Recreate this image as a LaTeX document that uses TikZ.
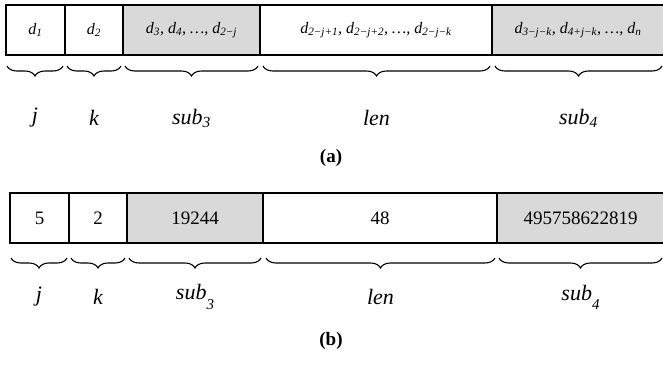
\documentclass[tikz,border=0pt]{standalone}
\usepackage{fontspec}
\setmainfont{Liberation Serif}
\usetikzlibrary{decorations.pathreplacing}
\definecolor{cellgray}{RGB}{217,217,217}
\newcommand\dsb[1]{\textsubscript{#1}}
\newcommand\lowsb[1]{\raisebox{-0.42em}{\fontsize{15}{17}\selectfont #1}}
\begin{document}
\begin{tikzpicture}[x=1pt,y=-1pt,
  cell/.style={draw, line width=1.2pt, inner sep=0pt, minimum height=50pt, font=\fontsize{16}{18}\selectfont},
  numcell/.style={cell, font=\fontsize{19}{21}\selectfont},
  shaded/.style={fill=cellgray},
  brc/.style={decorate, decoration={brace, mirror, amplitude=10pt}, line width=1.1pt},
  lbltxt/.style={font=\fontsize{22}{24}\selectfont\itshape, inner sep=0pt},
  captxt/.style={font=\fontsize{19}{21}\selectfont\bfseries, inner sep=0pt}]
\useasboundingbox (0,0) rectangle (663,367);

% ---------- (a) ----------
\node[cell, minimum width=59pt] (a1) at (35.5,30) {\itshape d\dsb{1}};
\node[cell, minimum width=58pt] (a2) at (94,30) {\itshape d\dsb{2}};
\node[cell, shaded, minimum width=137pt] (a3) at (191.5,30) {\itshape d\dsb{3}, d\dsb{4}, …, d\dsb{2−j}};
\node[cell, minimum width=232pt] (a4) at (376,30) {\itshape d\dsb{2−j+1}, d\dsb{2−j+2}, …, d\dsb{2−j−k}};
\node[cell, shaded, minimum width=172pt] (a5) at (578,30) {\itshape d\dsb{3−j−k}, d\dsb{4+j−k}, …, d\dsb{n}};

\coordinate (aj1) at (7,66);   \coordinate (aj2) at (63,66);
\coordinate (ak1) at (67,66);  \coordinate (ak2) at (121,66);
\coordinate (as1) at (125,66); \coordinate (as2) at (258,66);
\coordinate (al1) at (263,66); \coordinate (al2) at (490,66);
\coordinate (at1) at (495,66); \coordinate (at2) at (662,66);
\foreach \p in {aj,ak,as,al,at}{\draw[brc] (\p1) -- (\p2);}

\node[lbltxt] (laj) at (35,118) {j};
\node[lbltxt] (lak) at (94,118) {k};
\node[lbltxt] (las) at (191.5,118) {sub\dsb{3}};
\node[lbltxt] (lal) at (376.5,118) {len};
\node[lbltxt] (lat) at (578.5,118) {sub\dsb{4}};
\node[captxt] (capa) at (331,158) {(a)};

% ---------- (b) ----------
\node[numcell, minimum width=59pt] (b1) at (39.5,218) {5};
\node[numcell, minimum width=58pt] (b2) at (98,218) {2};
\node[numcell, shaded, minimum width=136pt] (b3) at (195,218) {19244};
\node[numcell, minimum width=234pt] (b4) at (380,218) {48};
\node[numcell, shaded, minimum width=167pt] (b5) at (580.5,218) {495758622819};

\coordinate (bj1) at (11,258);  \coordinate (bj2) at (67,258);
\coordinate (bk1) at (71,258);  \coordinate (bk2) at (125,258);
\coordinate (bs1) at (129,258); \coordinate (bs2) at (261,258);
\coordinate (bl1) at (266,258); \coordinate (bl2) at (495,258);
\coordinate (bt1) at (499,258); \coordinate (bt2) at (662,258);
\foreach \p in {bj,bk,bs,bl,bt}{\draw[brc] (\p1) -- (\p2);}

\node[lbltxt] (lbj) at (39,297) {j};
\node[lbltxt] (lbk) at (98,297) {k};
\node[lbltxt] (lbs) at (195,297) {sub\lowsb{3}};
\node[lbltxt] (lbL) at (380.5,297) {len};
\node[lbltxt] (lbt) at (580.5,297) {sub\lowsb{4}};
\node[captxt] (capb) at (331,341) {(b)};
\end{tikzpicture}
\end{document}
